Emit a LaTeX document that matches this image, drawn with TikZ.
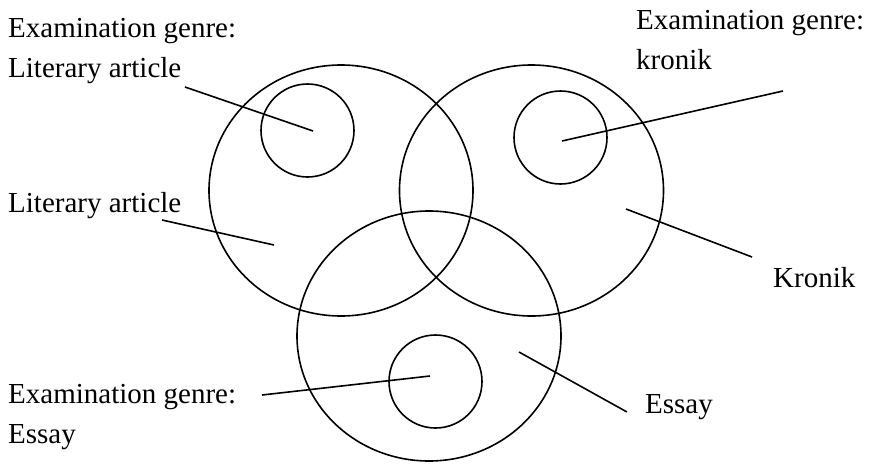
\documentclass[tikz,border=0pt]{standalone}
\usepackage{fontspec}
\setmainfont{Liberation Serif}
\begin{document}
\begin{tikzpicture}[x=1pt,y=-1pt,
  ring/.style={draw=black,line width=1.6pt},
  lbl/.style={inner sep=0pt,anchor=base west,align=left,font=\fontsize{29}{40}\selectfont},
  leader/.style={draw=black,line width=1.6pt}]
\useasboundingbox (0,0) rectangle (869,463);
% large sets
\draw[ring] (341,190.5) ellipse [x radius=132pt, y radius=125.5pt];
\draw[ring] (531.5,190.5) ellipse [x radius=132pt, y radius=125.5pt];
\draw[ring] (429,336) ellipse [x radius=132pt, y radius=125pt];
% small sets
\node[ring,circle,minimum size=93pt,inner sep=0pt] (sL) at (307.5,130.5) {};
\node[ring,circle,minimum size=93pt,inner sep=0pt] (sR) at (560.5,137.5) {};
\node[ring,circle,minimum size=93pt,inner sep=0pt] (sB) at (435.5,381.5) {};
% labels (two-line nodes anchored at the baseline of their last line)
\node[lbl] (tEL) at (8,77) {Examination genre:\\Literary article};
\node[lbl] (tL) at (8,212) {Literary article};
\node[lbl] (tEK) at (636,69) {Examination genre:\\kronik};
\node[lbl] (tK) at (773,287) {Kronik};
\node[lbl] (tE) at (645,413) {Essay};
\node[lbl] (tEE) at (8,443) {Examination genre:\\Essay};
% leader end points
\coordinate (aEL) at (185,87);  \coordinate (bEL) at (313,131);
\coordinate (aL) at (162,220);  \coordinate (bL) at (274,245);
\coordinate (aEK) at (783,91);  \coordinate (bEK) at (562,141);
\coordinate (aK) at (752,257);  \coordinate (bK) at (626,209);
\coordinate (aE) at (627,412);  \coordinate (bE) at (519,352);
\coordinate (aEE) at (262,395); \coordinate (bEE) at (430,376);
\draw[leader] (aEL) -- (bEL);
\draw[leader] (aL) -- (bL);
\draw[leader] (aEK) -- (bEK);
\draw[leader] (aK) -- (bK);
\draw[leader] (aE) -- (bE);
\draw[leader] (aEE) -- (bEE);
\end{tikzpicture}
\end{document}
